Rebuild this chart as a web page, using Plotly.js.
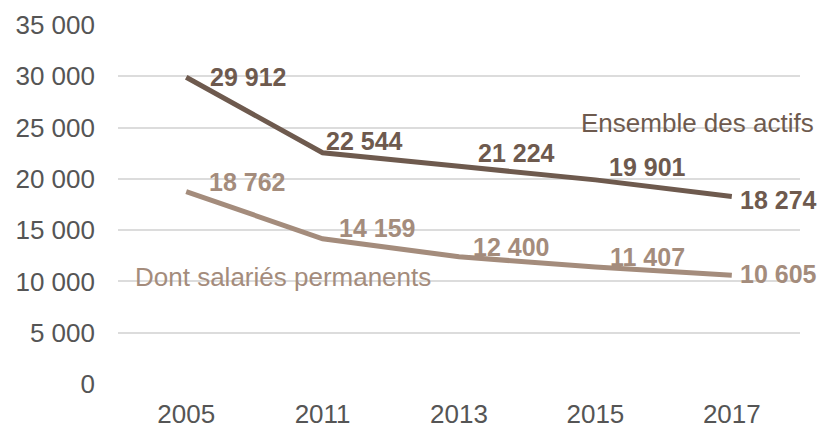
<!DOCTYPE html>
<html>
<head>
<meta charset="utf-8">
<script src="https://cdn.plot.ly/plotly-3.0.1.min.js"></script>
<style>html,body{margin:0;padding:0;background:#fff;}#chart{width:823px;height:429px;}</style>
</head>
<body>
<div id="chart"></div>
<script>
const years = ['2005', '2011', '2013', '2015', '2017'];
const ensembleActifs = [29912, 22544, 21224, 19901, 18274];
const salariesPermanents = [18762, 14159, 12400, 11407, 10605];
const seriesNames = ['Ensemble des actifs', 'Dont salariés permanents'];

const darkColor = '#6e5a4e';
const lightColor = '#a48c7c';
const fontFamily = 'Liberation Sans, Arial, sans-serif';

function fmt(v) {
  return String(v).replace(/\B(?=(\d{3})+(?!\d))/g, ' ');
}

// label offsets (px) relative to each point
const darkOffsets = [
  {xs: 22, ys: 0, xa: 'left'},
  {xs: 1, ys: 12, xa: 'left'},
  {xs: 57, ys: 13, xa: 'center'},
  {xs: 52, ys: 13, xa: 'center'},
  {xs: 6, ys: -3, xa: 'left'}
];
const lightOffsets = [
  {xs: 21, ys: 10, xa: 'left'},
  {xs: 14, ys: 11, xa: 'left'},
  {xs: 52, ys: 10, xa: 'center'},
  {xs: 52, ys: 10, xa: 'center'},
  {xs: 6, ys: 1, xa: 'left'}
];

const traces = [
  {x: years, y: ensembleActifs, type: 'scatter', mode: 'lines', name: seriesNames[0],
   line: {color: darkColor, width: 5}, hoverinfo: 'skip'},
  {x: years, y: salariesPermanents, type: 'scatter', mode: 'lines', name: seriesNames[1],
   line: {color: lightColor, width: 5}, hoverinfo: 'skip'}
];

const annotations = [];
function addLabels(vals, offs, color) {
  vals.forEach((v, i) => {
    annotations.push({
      x: i, y: v, xref: 'x', yref: 'y',
      text: '<b>' + fmt(v) + '</b>', showarrow: false,
      xanchor: offs[i].xa, yanchor: 'middle',
      xshift: offs[i].xs, yshift: offs[i].ys,
      font: {family: fontFamily, size: 25, color: color}
    });
  });
}
addLabels(ensembleActifs, darkOffsets, darkColor);
addLabels(salariesPermanents, lightOffsets, lightColor);

annotations.push({
  xref: 'paper', yref: 'paper', x: 1.024, y: 0.727,
  xanchor: 'right', yanchor: 'middle', showarrow: false,
  text: seriesNames[0], font: {family: fontFamily, size: 26, color: darkColor}
});
annotations.push({
  xref: 'paper', yref: 'paper', x: 0.022, y: 0.298,
  xanchor: 'left', yanchor: 'middle', showarrow: false,
  text: seriesNames[1], font: {family: fontFamily, size: 26, color: lightColor}
});

const layout = {
  width: 823, height: 429,
  margin: {l: 118, r: 23, t: 25, b: 45},
  paper_bgcolor: '#fff', plot_bgcolor: '#fff',
  showlegend: false,
  separators: ', ',
  font: {family: fontFamily, size: 26, color: '#555'},
  xaxis: {
    type: 'category', range: [-0.5, 4.5],
    showgrid: false, zeroline: false, showline: false,
    ticks: '', ticklabelstandoff: 12,
    tickfont: {family: fontFamily, size: 26, color: '#555'}
  },
  yaxis: {
    range: [0, 35000], dtick: 5000, tick0: 0,
    tickformat: ',', showgrid: true, gridcolor: '#dcdcdc', gridwidth: 2,
    zeroline: false, showline: false, ticks: '',
    ticklabelstandoff: 22,
    tickfont: {family: fontFamily, size: 26, color: '#555'}
  },
  annotations: annotations
};

Plotly.newPlot('chart', traces, layout, {displayModeBar: false, staticPlot: true});
</script>
</body>
</html>
